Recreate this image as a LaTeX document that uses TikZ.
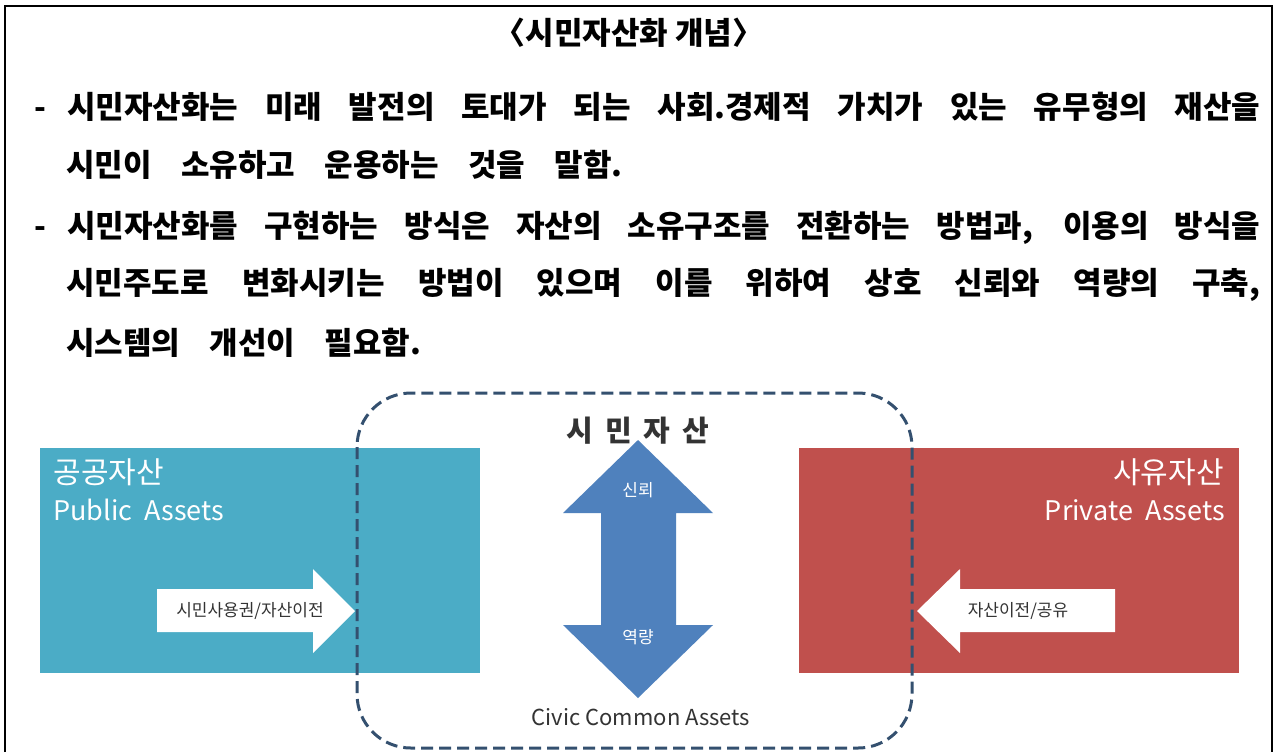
\documentclass[tikz,border=0pt]{standalone}
\usepackage{fontspec}
\newfontfamily\krfont{Noto Sans CJK KR}
\usetikzlibrary{positioning}

\definecolor{pubblue}{HTML}{4BACC6}
\definecolor{prired}{HTML}{C0504D}
\definecolor{civblue}{HTML}{4F81BD}
\definecolor{dashnavy}{HTML}{34506F}
\definecolor{inktext}{HTML}{333333}

\newcommand{\fullline}[2]{\spaceskip=0.3em plus 1fil\relax\makebox[#1][s]{#2}}
\newcommand{\shortline}[1]{\spaceskip=0.95em\relax #1}
\newcommand{\dashitem}{-\hspace{10.5pt}}

\begin{document}
\begin{tikzpicture}[x=0.5pt,y=-0.5pt,
	every node/.style={inner sep=0pt,font=\krfont},
	heading/.style={font=\krfont\bfseries\fontsize{15.5}{18}\selectfont},
	body/.style={anchor=west,font=\krfont\bfseries\fontsize{15.5}{18}\selectfont},
	boxlabel/.style={text=white,font=\krfont\fontsize{15}{17}\selectfont},
	boxlabelen/.style={text=white,font=\krfont\fontsize{13.5}{15}\selectfont},
	arrowlabel/.style={text=inktext,font=\krfont\fontsize{8.5}{10}\selectfont},
	civiclabel/.style={text=inktext,font=\krfont\bfseries\fontsize{14.5}{16}\selectfont},
	duallabel/.style={text=white,font=\krfont\fontsize{8.5}{10}\selectfont},
	assetbox/.style={minimum width=220pt,minimum height=112.5pt}]

	\fill[white] (0,0) rectangle (1275,752);
	\useasboundingbox (0,0) rectangle (1275,752);
	\draw[line width=1pt] (5,752) -- (5,6) -- (1272,6) -- (1272,752);

	% text above the figure
	\node[heading] (title) at (629,33) {〈시민자산화 개념〉};
	\node[body] (L1) at (34,107) {\fullline{613pt}{\dashitem 시민자산화는 미래 발전의 토대가 되는 사회.경제적 가치가 있는 유무형의 재산을}};
	\node[body] (L2) at (66,165) {\shortline{시민이 소유하고 운용하는 것을 말함.}};
	\node[body] (L3) at (34,228) {\fullline{613pt}{\dashitem 시민자산화를 구현하는 방식은 자산의 소유구조를 전환하는 방법과, 이용의 방식을}};
	\node[body] (L4) at (66,285) {\fullline{597pt}{시민주도로 변화시키는 방법이 있으며 이를 위하여 상호 신뢰와 역량의 구축,}};
	\node[body] (L5) at (66,343) {\shortline{시스템의 개선이 필요함.}};

	% figure
	\node[assetbox,fill=pubblue] (pub) at (260,560.5) {};
	\node[assetbox,fill=prired] (pri) at (1019,560.5) {};
	\node[boxlabel,anchor=west] (pubKo) at (53,472) {공공자산};
	\node[boxlabelen,anchor=west] (pubEn) at (53,510) {Public\ \ Assets};
	\node[boxlabel,anchor=east] (priKo) at (1224,472) {사유자산};
	\node[boxlabelen,anchor=east] (priEn) at (1225,510) {Private\ \ Assets};

	\fill[white] (157,589) -- (313,589) -- (313,569) -- (355,611) -- (313,653) -- (313,632) -- (157,632) -- cycle;
	\node[arrowlabel] (pubArrow) at (250,611) {시민사용권/자산이전};
	\fill[white] (1115,589) -- (960,589) -- (960,569) -- (917,611) -- (960,653) -- (960,632) -- (1115,632) -- cycle;
	\node[arrowlabel] (priArrow) at (1018,611) {자산이전/공유};

	\fill[civblue] (638,440) -- (713,513) -- (676,513) -- (676,625) -- (713,625) -- (638,698)
		-- (563,625) -- (601,625) -- (601,513) -- (563,513) -- cycle;
	\node[duallabel] (trust) at (638,490) {신뢰};
	\node[duallabel] (capacity) at (638,637) {역량};
	\node[civiclabel] (civicKo) at (638,431) {시\hspace{6pt}민\hspace{6pt}자\hspace{6pt}산};
	\node[text=inktext,font=\krfont\fontsize{11}{13}\selectfont] (civicEn) at (641,717) {Civic Common Assets};

	\draw[dashnavy,line width=1.5pt,dash pattern=on 6pt off 3pt,rounded corners=27pt] (357,393) rectangle (912,748);
\end{tikzpicture}
\end{document}
